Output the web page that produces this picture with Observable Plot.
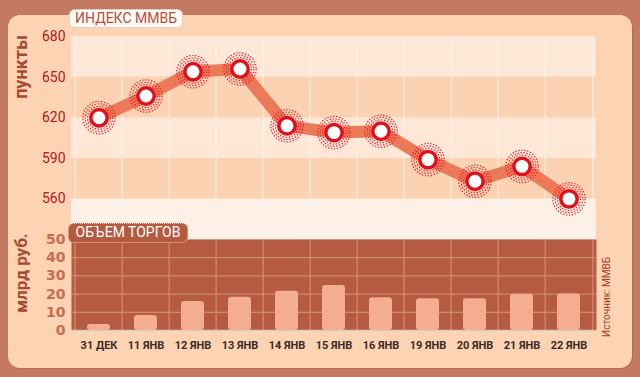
<!DOCTYPE html>
<html><head><meta charset="utf-8">
<script src="https://cdn.jsdelivr.net/npm/d3@7"></script>
<script src="https://cdn.jsdelivr.net/npm/@observablehq/plot@0.6"></script>
<style>
html,body{margin:0;padding:0;}
body{width:640px;height:377px;overflow:hidden;background:#c47a62;font-family:Roboto,"DejaVu Sans",sans-serif;}
#wrap{position:relative;width:640px;height:377px;}
#panel{position:absolute;left:8px;top:15px;width:624px;height:353px;background:#fcd3b3;border-radius:12px;box-shadow:1px 1px 0 #b9694f;}
.chart{position:absolute;left:0;top:0;}
.box{position:absolute;box-sizing:border-box;border-radius:6px;font-size:14px;line-height:16px;text-align:center;white-space:nowrap;}
#t1{left:69px;top:9px;width:114px;height:19px;background:#fffaf6;border:1.5px dotted #ee9c84;color:#b4503a;}
#t2{left:68px;top:223px;width:120px;height:20px;background:#b35a41;border:1.5px dotted #f3c3ad;color:#fff;line-height:17px;}
.rot{position:absolute;transform:translate(-50%,-50%) rotate(-90deg);white-space:nowrap;}
#yl1{left:20px;top:67px;font-weight:bold;font-size:18px;color:#a84a30;}
#yl2{left:21px;top:273px;font-weight:bold;font-size:17px;color:#a84a30;}
#src{left:606px;top:297px;font-size:10px;color:#a8402c;}
</style>
</head><body>
<div id="wrap">
  <div id="panel"></div>
  <div id="c1" class="chart"></div>
  <div id="c2" class="chart"></div>
  <div id="t1" class="box">ИНДЕКС ММВБ</div>
  <div id="t2" class="box">ОБЪЕМ ТОРГОВ</div>
  <div id="yl1" class="rot">пункты</div>
  <div id="yl2" class="rot">млрд руб.</div>
  <div id="src" class="rot">Источник: ММВБ</div>
</div>
<script>
const dates = ["31 ДЕК","11 ЯНВ","12 ЯНВ","13 ЯНВ","14 ЯНВ","15 ЯНВ","16 ЯНВ","19 ЯНВ","20 ЯНВ","21 ЯНВ","22 ЯНВ"];
const indexValues = [620,636,654,656,614,609,610,589,573,584,560];
const volumeValues = [3.3,8.2,15.9,18.3,21.6,24.7,18,17.4,17.4,19.9,20];
const indexTicks = [560,590,620,650,680];
const volumeTicks = [0,10,20,30,40,50];

const W = 640, H = 377, ML = 71, MR = 44;
const bw = (W - ML - MR) / dates.length;
const rows = dates.map((d, i) => ({date: d, index: indexValues[i], volume: volumeValues[i]}));
const bandEdges = [530, ...indexTicks];
const bands = d3.pairs(bandEdges).map(([a, b], i) => ({y1: a, y2: b, i}));
const edges = [...dates.map(d => ({d, dx: -bw / 2})), {d: dates[dates.length - 1], dx: bw / 2}];

function edgeRules(color) {
  return edges.map(e => Plot.ruleX([e.d], {dx: e.dx, stroke: color, strokeWidth: 1}));
}

const volChart = Plot.plot({
  width: W, height: H, marginLeft: ML, marginRight: MR, marginTop: 239, marginBottom: H - 330,
  style: {background: "transparent", overflow: "visible"},
  x: {type: "band", domain: dates, padding: 0, axis: null, label: null},
  y: {domain: [0, 50], axis: null, label: null},
  marks: [
    Plot.frame({fill: "#b45b42", stroke: null}),
    Plot.ruleY(volumeTicks.filter(v => v > 0 && v < 50), {stroke: "#d9947a", strokeWidth: 1}),
    ...edgeRules("#d9947a"),
    Plot.barY(rows, {x: "date", y: "volume", fill: "#f4ad8e", insetLeft: 12, insetRight: 12, rx: 3}),
    Plot.ruleY([0], {stroke: "#dacbc4", strokeWidth: 1.5}),
    Plot.axisY({ticks: volumeTicks, label: null, tickSize: 0, tickPadding: 6, fontSize: 14, fontWeight: "bold", fill: "#c96b50", fontFamily: "DejaVu Sans"}),
    Plot.axisX({label: null, tickSize: 0, tickPadding: 11, fontSize: 11, fontWeight: "bold", fill: "#3b2b26", fontFamily: "Roboto"})
  ]
});
document.getElementById("c1").appendChild(volChart);

const idxChart = Plot.plot({
  width: W, height: H, marginLeft: ML, marginRight: MR, marginTop: 36, marginBottom: H - 239,
  style: {background: "transparent", overflow: "visible"},
  x: {type: "band", domain: dates, padding: 0, axis: null, label: null},
  y: {domain: [530, 680], axis: null, label: null},
  marks: [
    Plot.rect(bands, {y1: "y1", y2: "y2", fill: d => d.i === 0 ? "#fdf0e6" : (d.i % 2 === 0 ? "#fde8d8" : "#fbd2b2")}),
    ...edgeRules("#fef1e6"),
    Plot.line(rows, {x: "date", y: "index", stroke: "#ec7a58", strokeWidth: 12}),
    Plot.dot(rows, {x: "date", y: "index", r: 16.2, fill: "none", stroke: "#e8202a", strokeWidth: 1.2, strokeDasharray: "1.4,1.6"}),
    Plot.dot(rows, {x: "date", y: "index", r: 13.8, fill: "none", stroke: "#e8202a", strokeWidth: 1.2, strokeDasharray: "1.4,1.6"}),
    Plot.dot(rows, {x: "date", y: "index", r: 11.5, fill: "none", stroke: "#e8202a", strokeWidth: 1.2, strokeDasharray: "1.4,1.6"}),
    Plot.dot(rows, {x: "date", y: "index", r: 8.2, fill: "#ffffff", stroke: "#e0101c", strokeWidth: 3.5}),
    Plot.axisY({ticks: indexTicks, label: null, tickSize: 0, tickPadding: 6, fontSize: 14, fill: "#b3161c", fontFamily: "Roboto"})
  ]
});
document.getElementById("c2").appendChild(idxChart);
</script>
</body></html>
